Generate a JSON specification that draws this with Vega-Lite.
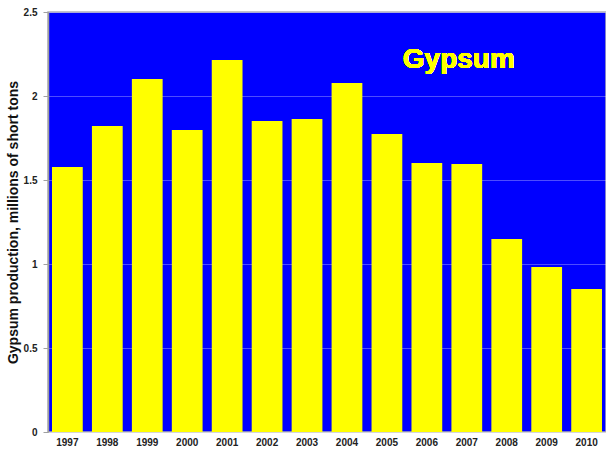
{
  "$schema": "https://vega.github.io/schema/vega-lite/v6.json",
  "width": 558,
  "height": 420,
  "autosize": "none",
  "padding": {"left": 48, "top": 12, "right": 0, "bottom": 20},
  "background": "white",
  "config": {
    "view": {"fill": "#0000ff", "stroke": "#b0b0b8", "strokeWidth": 1.5},
    "font": "Liberation Sans"
  },
  "data": {
    "values": [
      {"year": "1997", "value": 1.577},
      {"year": "1998", "value": 1.821},
      {"year": "1999", "value": 2.101},
      {"year": "2000", "value": 1.798},
      {"year": "2001", "value": 2.214},
      {"year": "2002", "value": 1.851},
      {"year": "2003", "value": 1.863},
      {"year": "2004", "value": 2.077},
      {"year": "2005", "value": 1.774},
      {"year": "2006", "value": 1.601},
      {"year": "2007", "value": 1.595},
      {"year": "2008", "value": 1.149},
      {"year": "2009", "value": 0.982},
      {"year": "2010", "value": 0.851}
    ]
  },
  "layer": [
    {
      "mark": {"type": "bar", "color": "#ffff00"},
      "encoding": {
        "x": {
          "field": "year", "type": "ordinal",
          "scale": {"paddingInner": 0.23, "paddingOuter": 0.1},
          "axis": {
            "title": null, "labelAngle": 0, "labelFont": "Liberation Sans",
            "labelFontWeight": "bold", "labelFontSize": 10, "labelColor": "#222222",
            "labelPadding": 5, "ticks": false, "domain": false
          }
        },
        "y": {
          "field": "value", "type": "quantitative",
          "scale": {"domain": [0, 2.5], "nice": false},
          "axis": {
            "title": "Gypsum production, millions of short tons",
            "titleFont": "Liberation Sans", "titleFontSize": 14, "titleFontWeight": "bold",
            "titleColor": "#111111", "titlePadding": 3,
            "values": [0, 0.5, 1, 1.5, 2, 2.5],
            "labelExpr": "datum.value",
            "labelFont": "Liberation Sans", "labelFontWeight": "bold", "labelFontSize": 10,
            "labelColor": "#222222", "labelPadding": 6,
            "tickColor": "#a0a0a0", "tickSize": 5,
            "domainColor": "#a0a0a0", "domainWidth": 1.5,
            "grid": true, "gridColor": "#ffffff", "gridOpacity": 0.3, "gridWidth": 1
          }
        }
      }
    },
    {
      "mark": {"type": "text", "text": "Gypsum", "font": "Liberation Sans", "fontSize": 28, "fontWeight": "bold", "color": "#ffff00", "align": "center", "baseline": "alphabetic", "dx": -8},
      "encoding": {
        "x": {"datum": "2007", "type": "ordinal"},
        "y": {"datum": 2.167, "type": "quantitative"}
      }
    }
  ]
}
